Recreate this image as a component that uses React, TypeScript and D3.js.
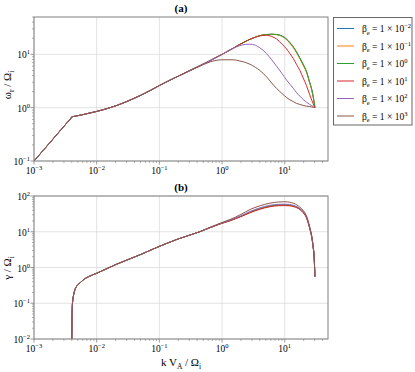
import React from "react";
import * as d3 from "d3";

const WIDTH = 415;
const HEIGHT = 372;
const LEFT = 34;
const RIGHT = 328;
const TOP_A = 17;
const BOTTOM_A = 161;
const TOP_B = 196;
const BOTTOM_B = 339;
const FONT = "'Liberation Serif', 'Times New Roman', serif";

// beta_e exponents and matplotlib tab10 colours
const betaExponents = [-2, -1, 0, 1, 2, 3];
const colors = ["#1f77b4", "#ff7f0e", "#2ca02c", "#d62728", "#9467bd", "#8c564b"];

// (a) real frequency: shared low-k branch
const kOmegaLow = [0.001, 0.0014, 0.0018, 0.0024, 0.003, 0.0034, 0.0037, 0.0039, 0.004, 0.0045, 0.006, 0.008, 0.01, 0.02, 0.03, 0.05, 0.07, 0.1, 0.2, 0.3];
const omegaLow = [0.1, 0.158, 0.222, 0.33, 0.446, 0.53, 0.59, 0.635, 0.67, 0.69, 0.74, 0.8, 0.85, 1.08, 1.3, 1.7, 2.07, 2.6, 3.9, 4.9];

// (a) high-k branch, one list per beta_e
const kOmegaTail = [0.44, 0.64, 1, 1.5, 1.93, 2.4, 2.8, 3.4, 4, 5.1, 6.2, 7.4, 9, 10.7, 12.1, 13.7, 15.5, 17.4, 19.7, 22.2, 25, 27, 28.5, 30.3];
const omegaBetaM2 = [6.1, 7.6, 10, 13, 15.4, 17.6, 19.2, 21.0, 22.4, 23.5, 23.8, 23.5, 22.0, 19.1, 16.4, 13.6, 10.9, 8.5, 6.4, 4.7, 2.95, 2.15, 1.58, 1.0];
const omegaBetaM1 = [6.1, 7.6, 10, 13, 15.4, 17.6, 19.2, 21.0, 22.4, 23.5, 23.8, 23.4, 21.8, 18.8, 16.0, 13.3, 10.6, 8.3, 6.2, 4.6, 2.9, 2.1, 1.55, 1.0];
const omegaBeta0 = [6.1, 7.6, 10, 13, 15.4, 17.6, 19.2, 21.0, 22.4, 23.5, 23.8, 23.6, 22.2, 19.4, 16.6, 13.8, 11.0, 8.6, 6.5, 4.8, 3.0, 2.2, 1.6, 1.0];
const omegaBeta1 = [6.1, 7.6, 10, 13, 15.4, 17.6, 19.2, 21.0, 22.2, 22.8, 21.6, 19.4, 15.6, 12.6, 10.3, 8.3, 6.4, 5.0, 3.6, 2.6, 1.75, 1.37, 1.18, 1.0];
const omegaBeta2 = [6.1, 7.6, 10, 12.9, 14.6, 15.4, 15.5, 14.8, 13.3, 10.4, 7.9, 6.0, 4.4, 3.3, 2.75, 2.3, 1.9, 1.65, 1.42, 1.27, 1.15, 1.09, 1.05, 1.0];
const omegaBeta3 = [5.95, 7.2, 7.9, 7.9, 7.5, 7.0, 6.5, 5.7, 5.0, 3.8, 2.9, 2.3, 1.85, 1.55, 1.4, 1.3, 1.2, 1.15, 1.1, 1.07, 1.05, 1.03, 1.02, 1.0];

// (b) growth rate: shared low-k branch
const kGammaLow = [0.00401, 0.00404, 0.00408, 0.00415, 0.00424, 0.0045, 0.0048, 0.0055, 0.0061, 0.0075, 0.01, 0.02, 0.05, 0.1, 0.2, 0.44];
const gammaLow = [0.01, 0.04, 0.08, 0.12, 0.155, 0.24, 0.3, 0.38, 0.45, 0.56, 0.69, 1.2, 2.3, 3.9, 6.3, 10];

// (b) high-k branch, one list per beta_e
const kGammaTail = [0.64, 1, 1.34, 2, 2.8, 4, 5.8, 8, 10, 12, 14, 17.4, 20, 22.2, 25.2, 27, 28.3, 29.5, 30.3];
const gammaBetaM2 = [13, 17.4, 20.5, 27, 35, 44, 52, 55.5, 56, 55, 52, 43, 34, 25, 12, 7, 3.9, 1.8, 0.56];
const gammaBetaM1 = [13, 17.4, 20.5, 27, 35, 44, 52, 55.5, 56, 55, 52, 43, 34, 25, 12, 7, 3.9, 1.8, 0.56];
const gammaBeta0 = [13, 17.4, 20.5, 27, 35.2, 44.3, 52.4, 56, 56.5, 55.5, 52.5, 43.5, 34.3, 25.2, 12.1, 7.05, 3.92, 1.82, 0.56];
const gammaBeta1 = [12.9, 17.2, 20.2, 26.5, 34, 42.5, 50, 53.5, 54, 53, 50, 42, 33, 24.5, 11.8, 6.9, 3.85, 1.8, 0.56];
const gammaBeta2 = [13.1, 17.7, 21, 28, 37, 46.5, 55, 58.5, 59, 58, 54, 45, 35, 26, 12.5, 7.2, 4, 1.85, 0.56];
const gammaBeta3 = [13.3, 18.2, 22, 30.5, 42, 53, 63, 68, 69, 67, 62, 49, 38, 28, 13, 7.5, 4.1, 1.9, 0.56];

const omegaTails = [omegaBetaM2, omegaBetaM1, omegaBeta0, omegaBeta1, omegaBeta2, omegaBeta3];
const gammaTails = [gammaBetaM2, gammaBetaM1, gammaBeta0, gammaBeta1, gammaBeta2, gammaBeta3];

const xTickExps = [-3, -2, -1, 0, 1];
const yTickExpsA = [-1, 0, 1];
const yTickExpsB = [-2, -1, 0, 1, 2];

const sup = (e: number) => (e < 0 ? "\u2212" + Math.abs(e) : String(e));

const minorTicks = (domain: number[]) => {
  const out: number[] = [];
  const lo = Math.floor(Math.log10(domain[0]));
  const hi = Math.ceil(Math.log10(domain[1]));
  for (let p = lo; p <= hi; p++) {
    for (let m = 2; m <= 9; m++) {
      const v = m * Math.pow(10, p);
      if (v >= domain[0] && v <= domain[1]) out.push(v);
    }
  }
  return out;
};

const x = d3.scaleLog().domain([1e-3, Math.pow(10, 1.69)]).range([LEFT, RIGHT]);

type Pt = [number, number];

const Panel = ({ y, yTicks, series, yTop, yBottom }: any) => {
  const line = d3
    .line<Pt>()
    .x((d) => x(d[0]))
    .y((d) => y(d[1]))
    .curve(d3.curveMonotoneX);
  const xMinor = minorTicks(x.domain());
  const yMinor = minorTicks(y.domain());
  const axisColor = "#808080";
  return (
    <g>
      {/* grid */}
      {xTickExps.map((e) => (
        <line key={"gx" + e} x1={x(Math.pow(10, e))} x2={x(Math.pow(10, e))} y1={yTop} y2={yBottom} stroke="#dcdcdc" strokeWidth={0.8} />
      ))}
      {yTicks.map((e: number) => (
        <line key={"gy" + e} x1={LEFT} x2={RIGHT} y1={y(Math.pow(10, e))} y2={y(Math.pow(10, e))} stroke="#dcdcdc" strokeWidth={0.8} />
      ))}
      {/* curves */}
      <g clipPath={`url(#clip${yTop})`}>
        {series.map((pts: Pt[], i: number) => (
          <path key={i} d={line(pts) || ""} fill="none" stroke={colors[i]} strokeWidth={1} />
        ))}
      </g>
      {/* frame */}
      <rect x={LEFT} y={yTop} width={RIGHT - LEFT} height={yBottom - yTop} fill="none" stroke={axisColor} strokeWidth={1} />
      {/* ticks */}
      {xTickExps.map((e) => (
        <line key={"tx" + e} x1={x(Math.pow(10, e))} x2={x(Math.pow(10, e))} y1={yBottom} y2={yBottom + 3.5} stroke={axisColor} strokeWidth={0.8} />
      ))}
      {xMinor.map((v, i) => (
        <line key={"mx" + i} x1={x(v)} x2={x(v)} y1={yBottom} y2={yBottom + 2} stroke={axisColor} strokeWidth={0.6} />
      ))}
      {yTicks.map((e: number) => (
        <line key={"ty" + e} x1={LEFT - 3.5} x2={LEFT} y1={y(Math.pow(10, e))} y2={y(Math.pow(10, e))} stroke={axisColor} strokeWidth={0.8} />
      ))}
      {yMinor.map((v, i) => (
        <line key={"my" + i} x1={LEFT - 2} x2={LEFT} y1={y(v)} y2={y(v)} stroke={axisColor} strokeWidth={0.6} />
      ))}
      {/* tick labels */}
      {xTickExps.map((e) => (
        <text key={"lx" + e} x={x(Math.pow(10, e))} y={yBottom + 13} textAnchor="middle" fontSize={9.5}>
          10<tspan dy={-4} fontSize={6.5}>{sup(e)}</tspan>
        </text>
      ))}
      {yTicks.map((e: number) => (
        <text key={"ly" + e} x={LEFT - 4} y={y(Math.pow(10, e)) + 4} textAnchor="end" fontSize={9.5}>
          10<tspan dy={-4} fontSize={6.5}>{sup(e)}</tspan>
        </text>
      ))}
    </g>
  );
};

const App = () => {
  const yA = d3.scaleLog().domain([0.1, Math.pow(10, 1.7)]).range([BOTTOM_A, TOP_A]);
  const yB = d3.scaleLog().domain([0.01, 100]).range([BOTTOM_B, TOP_B]);

  const omegaSeries: Pt[][] = omegaTails.map((tail) =>
    kOmegaLow.concat(kOmegaTail).map((k, j) => [k, omegaLow.concat(tail)[j]] as Pt)
  );
  const gammaSeries: Pt[][] = gammaTails.map((tail) =>
    kGammaLow.concat(kGammaTail).map((k, j) => [k, gammaLow.concat(tail)[j]] as Pt)
  );

  const cx = (LEFT + RIGHT) / 2;
  const legendX = 333.5;
  const legendY = 17.5;
  const rowH = 17.5;

  return (
    <svg width={WIDTH} height={HEIGHT} style={{ position: "absolute", left: 0, top: 0, background: "white", fontFamily: FONT }}>
      <defs>
        <clipPath id={`clip${TOP_A}`}>
          <rect x={LEFT} y={TOP_A} width={RIGHT - LEFT} height={BOTTOM_A - TOP_A} />
        </clipPath>
        <clipPath id={`clip${TOP_B}`}>
          <rect x={LEFT} y={TOP_B} width={RIGHT - LEFT} height={BOTTOM_B - TOP_B + 1} />
        </clipPath>
      </defs>

      <Panel y={yA} yTicks={yTickExpsA} series={omegaSeries} yTop={TOP_A} yBottom={BOTTOM_A} />
      <Panel y={yB} yTicks={yTickExpsB} series={gammaSeries} yTop={TOP_B} yBottom={BOTTOM_B} />

      {/* titles */}
      <text x={cx} y={12} textAnchor="middle" fontSize={11} fontWeight="bold">(a)</text>
      <text x={cx} y={191} textAnchor="middle" fontSize={11} fontWeight="bold">(b)</text>

      {/* axis labels */}
      <text transform="translate(11, 85) rotate(-90)" textAnchor="middle" fontSize={11}>
        ω<tspan dy={3} fontSize={7.5}>r</tspan>
        <tspan dy={-3}> / Ω</tspan>
        <tspan dy={3} fontSize={7.5}>i</tspan>
      </text>
      <text transform="translate(11, 268) rotate(-90)" textAnchor="middle" fontSize={11}>
        γ / Ω<tspan dy={3} fontSize={7.5}>i</tspan>
      </text>
      <text x={cx} y={366} textAnchor="middle" fontSize={11}>
        k V<tspan dy={3} fontSize={7.5}>A</tspan>
        <tspan dy={-3}> / Ω</tspan>
        <tspan dy={3} fontSize={7.5}>i</tspan>
      </text>

      {/* legend */}
      <rect x={legendX} y={legendY} width={78.5} height={107.5} fill="white" stroke="#666" strokeWidth={1} />
      {betaExponents.map((e, i) => {
        const ry = 28.5 + i * rowH;
        return (
          <g key={e}>
            <line x1={337} x2={354} y1={ry} y2={ry} stroke={colors[i]} strokeWidth={1} />
            <text x={362} y={ry + 3.5} fontSize={9.5}>
              β<tspan dy={2.5} fontSize={6.5}>e</tspan>
              <tspan dy={-2.5}> = 1 × 10</tspan>
              <tspan dy={-4} fontSize={6.5}>{sup(e)}</tspan>
            </text>
          </g>
        );
      })}
    </svg>
  );
};

export default App;
